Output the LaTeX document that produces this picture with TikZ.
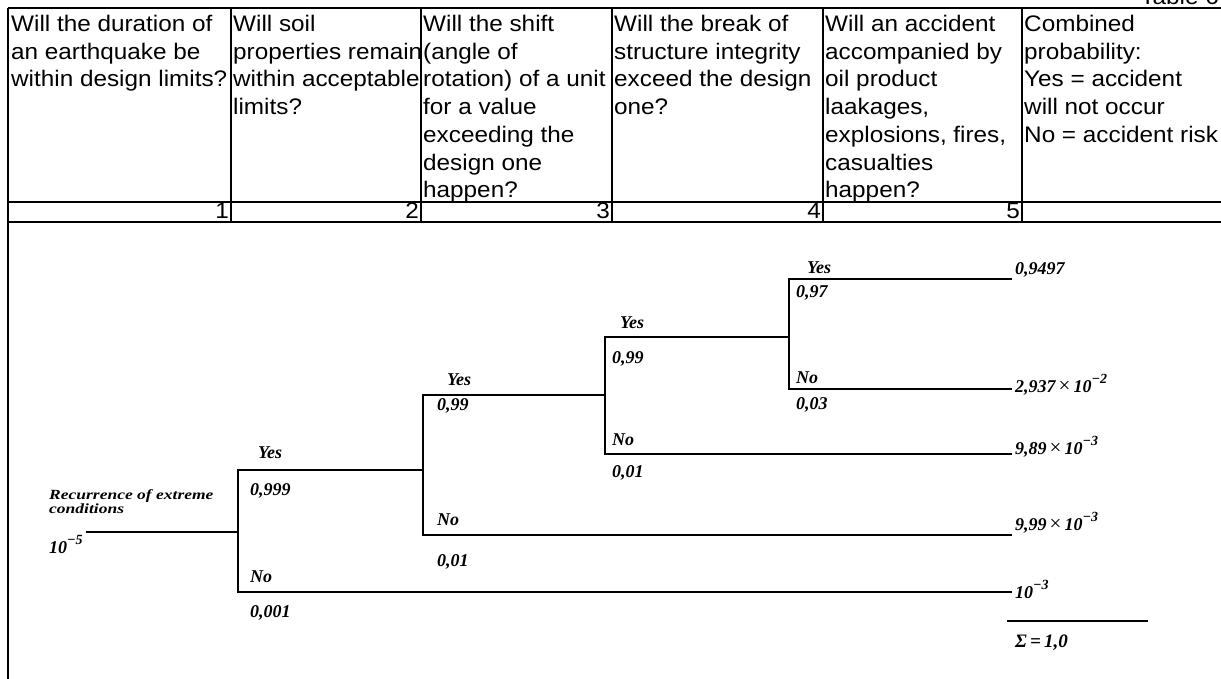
\documentclass[tikz,border=0pt]{standalone}
\usepackage{fontspec}
\usepackage{graphicx}
\setmainfont{Liberation Serif}
\newfontfamily\tblfont[FakeStretch=1.08]{Liberation Sans}
\newcommand\supx[1]{\raisebox{0.5em}{\fontsize{14}{14}\selectfont #1}}
\newcommand\timesx{{\upshape\mdseries\fontsize{21}{21}\selectfont ×}}
\begin{document}
\begin{tikzpicture}[x=1pt,y=-1pt,
  tbl/.style={font=\tblfont\fontsize{22.5}{27.7}\selectfont, anchor=north west, inner sep=0pt, align=left},
  num/.style={font=\tblfont\fontsize{22.5}{27.7}\selectfont, anchor=base east, inner sep=0pt},
  gridline/.style={line width=1.3pt},
  lbl/.style={font=\bfseries\itshape\fontsize{18}{20}\selectfont, anchor=base west, inner sep=0pt},
  br/.style={line width=2.3pt, line join=miter},
]
\useasboundingbox (0,0) rectangle (1221,679);
% table grid
\draw[gridline] (8,8) -- (1221,8);
\draw[gridline] (8,202) -- (1221,202);
\draw[gridline] (8,222) -- (1221,222);
\draw[gridline] (8,8) -- (8,679);
\foreach \x in {231,421,612,823,1022} \draw[gridline] (\x,8) -- (\x,222);
\node[font=\tblfont\fontsize{22.5}{27.7}\selectfont, anchor=base east, inner sep=0pt] (title) at (1219,5) {Table 6};
% header texts
\node[tbl] (h1) at (11,15) {Will the duration of\\an earthquake be\\within design limits?};
\node[tbl] (h2) at (233,15) {Will soil\\properties remain\\within acceptable\\limits?};
\node[tbl] (h3) at (423,15) {Will the shift\\(angle of\\rotation) of a unit\\for a value\\exceeding the\\design one\\happen?};
\node[tbl] (h4) at (614,15) {Will the break of\\structure integrity\\exceed the design\\one?};
\node[tbl] (h5) at (825,15) {Will an accident\\accompanied by\\oil product\\laakages,\\explosions, fires,\\casualties\\happen?};
\node[tbl] (h6) at (1024,15) {Combined\\probability:\\Yes = accident\\will not occur\\No = accident risk};
\node[num] (n1) at (229,219) {1};
\node[num] (n2) at (419,219) {2};
\node[num] (n3) at (610,219) {3};
\node[num] (n4) at (821,219) {4};
\node[num] (n5) at (1020,219) {5};
% tree coordinates
\coordinate (r0) at (86,532);
\coordinate (j1) at (238,532); \coordinate (j1t) at (238,470); \coordinate (j1b) at (238,592);
\coordinate (j2) at (423,470); \coordinate (j2t) at (423,395); \coordinate (j2b) at (423,535);
\coordinate (j3) at (605,395); \coordinate (j3t) at (605,337); \coordinate (j3b) at (605,454);
\coordinate (j4) at (789,337); \coordinate (j4t) at (789,279); \coordinate (j4b) at (789,389);
\coordinate (e1) at (1012,279); \coordinate (e2) at (1012,389); \coordinate (e3) at (1012,454);
\coordinate (e4) at (1012,535); \coordinate (e5) at (1012,592);
\coordinate (s1) at (1007,621); \coordinate (s2) at (1148,621);
% branches
\draw[br] (r0) -- (j1);
\draw[br] (j2) -- (j1t) -- (j1b) -- (e5);
\draw[br] (j3) -- (j2t) -- (j2b) -- (e4);
\draw[br] (j4) -- (j3t) -- (j3b) -- (e3);
\draw[br] (e1) -- (j4t) -- (j4b) -- (e2);
\draw[line width=2.8pt] (s1) -- (s2);
% root labels
\node[anchor=north west, inner sep=0pt] (rec) at (49,489) {\scalebox{1}[0.8]{\bfseries\itshape\fontsize{17.5}{17.5}\selectfont\begin{tabular}{@{}l@{}}Recurrence of extreme\\conditions\end{tabular}}};
\node[lbl] (rv) at (49,553) {10\supx{−5}};
% level 1
\node[lbl] (y1) at (258,458) {Yes};
\node[lbl] (p1y) at (250,495) {0,999};
\node[lbl] (n1l) at (250,582) {No};
\node[lbl] (p1n) at (250,617) {0,001};
% level 2
\node[lbl] (y2) at (447,385) {Yes};
\node[lbl] (p2y) at (437,410) {0,99};
\node[lbl] (n2l) at (437,525) {No};
\node[lbl] (p2n) at (437,566) {0,01};
% level 3
\node[lbl] (y3) at (620,328) {Yes};
\node[lbl] (p3y) at (612,363) {0,99};
\node[lbl] (n3l) at (612,445) {No};
\node[lbl] (p3n) at (612,477) {0,01};
% level 4
\node[lbl] (y4) at (807,273) {Yes};
\node[lbl] (p4y) at (796,298) {0,97};
\node[lbl] (n4l) at (796,383) {No};
\node[lbl] (p4n) at (796,409) {0,03};
% results
\node[lbl] (r1) at (1015,274) {0,9497};
\node[lbl] (r2) at (1015,392) {2,937\,\timesx\,10\supx{−2}};
\node[lbl] (r3) at (1015,454) {9,89\,\timesx\,10\supx{−3}};
\node[lbl] (r4) at (1015,530) {9,99\,\timesx\,10\supx{−3}};
\node[lbl] (r5) at (1015,598) {10\supx{−3}};
\node[lbl, font=\bfseries\itshape\fontsize{19}{20}\selectfont] (sum) at (1015,647) {Σ\,=\,1,0};
\end{tikzpicture}
\end{document}
